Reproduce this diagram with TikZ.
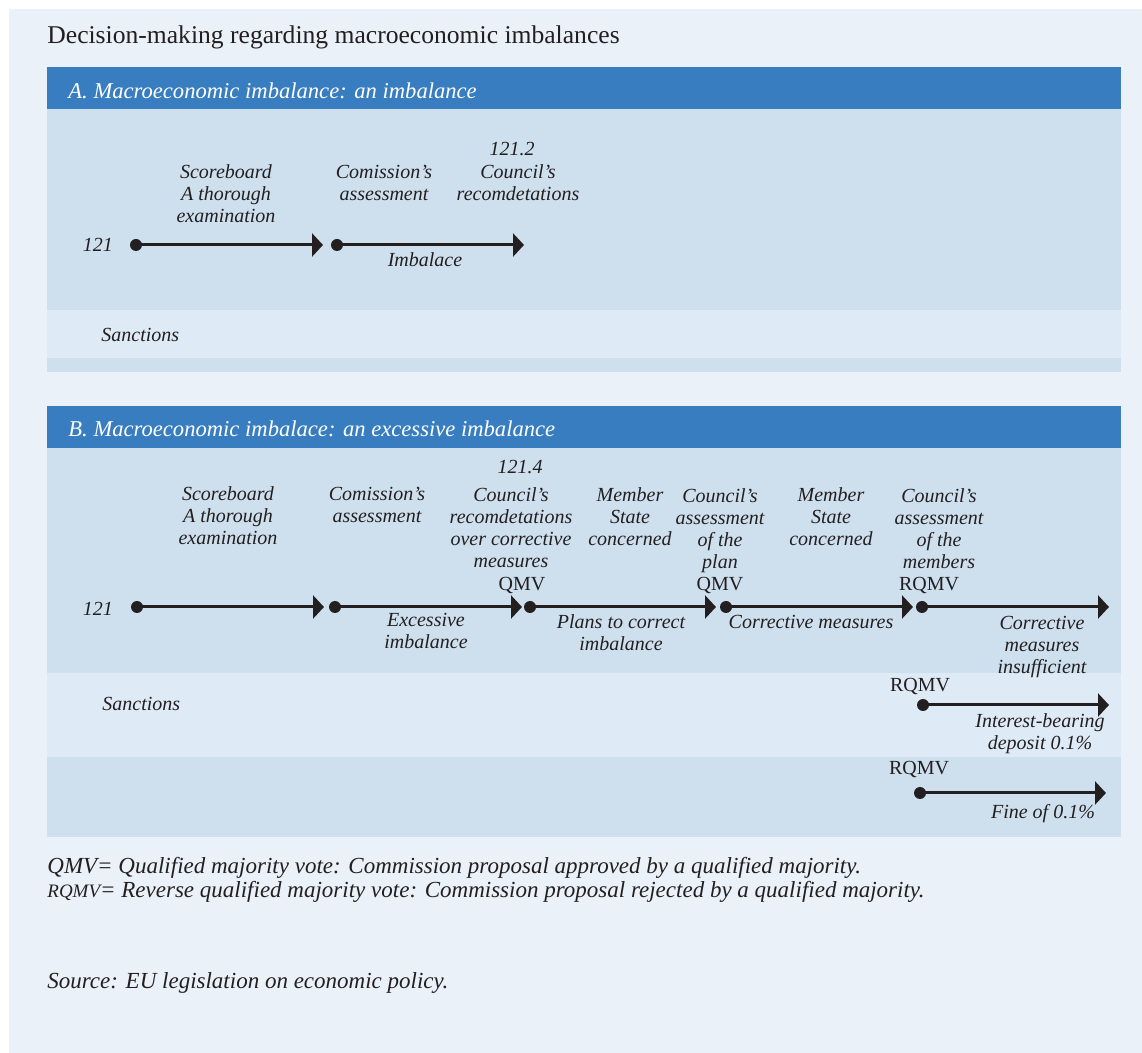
\documentclass[tikz,border=0pt]{standalone}
\usepackage{fontspec}
\setmainfont{Liberation Serif}
\usepackage{tikz}
\usetikzlibrary{arrows.meta}
\usetikzlibrary{positioning}
\definecolor{eu-ink}{HTML}{231F20}
\definecolor{eu-page}{HTML}{EAF1F8}
\definecolor{eu-header}{HTML}{387DC0}
\definecolor{eu-body}{HTML}{CEDFEE}
\definecolor{eu-strip}{HTML}{DEEAF6}

\begin{document}
\begin{tikzpicture}[x=0.5pt, y=-0.5pt,
    stagetext/.style={font=\fontsize{10}{11}\selectfont\itshape, align=center,
                      anchor=base, inner sep=0pt, text=eu-ink},
    vote/.style={font=\fontsize{10}{11}\selectfont, anchor=base, inner sep=0pt, text=eu-ink},
    stagedot/.style={circle, fill=eu-ink, inner sep=0pt, minimum size=6pt},
    stage/.style={line width=1.5pt, draw=eu-ink, -{Triangle[length=5.5pt, width=11.5pt]}},
    note/.style={font=\fontsize{11.5}{13}\selectfont\itshape, anchor=base west,
                 inner sep=0pt, text=eu-ink}]

    % page
    \useasboundingbox (0,0) rectangle (1142,1053);
    \fill[eu-page] (9,9) rectangle (1142,1053);
    \node[anchor=base west, inner sep=0pt, text=eu-ink, font=\fontsize{12.8}{15}\selectfont]
        (title) at (47,44) {Decision-making regarding macroeconomic imbalances};

    % panel A
    \fill[eu-header] (47,67) rectangle (1121,109);
    \fill[eu-body] (47,109) rectangle (1121,310);
    \fill[eu-strip] (47,310) rectangle (1121,358);
    \fill[eu-body] (47,358) rectangle (1121,372);
    \node[anchor=base west, inner sep=0pt, text=white, font=\fontsize{11.3}{13}\selectfont\itshape]
        (headA) at (68,99) {A. Macroeconomic imbalance: an imbalance};

    \begin{scope}[every node/.style={stagedot}]
        \node (a1) at (136,245) {};
        \node (a2) at (337,245) {};
    \end{scope}
    \coordinate (a1e) at (323,245);
    \coordinate (a2e) at (524,245);
    \draw[stage] (a1.center) -- (a1e);
    \draw[stage] (a2.center) -- (a2e);

    % texts sit on the baseline of their last line
    \begin{scope}[every node/.style={stagetext}]
        \node (a121) at (98,252) {121};
        \node (ascore) at (226,223) {Scoreboard\\A thorough\\examination};
        \node (acomm) at (384,201) {Comission’s\\assessment};
        \node (anum) at (512,156) {121.2};
        \node (acouncil) at (518,201) {Council’s\\recomdetations};
        \node (aimb) at (425,267) {Imbalace};
        \node[anchor=base west] (asanc) at (101,342) {Sanctions};
    \end{scope}

    % panel B
    \fill[eu-header] (47,406) rectangle (1121,448);
    \fill[eu-body] (47,448) rectangle (1121,673);
    \fill[eu-strip] (47,673) rectangle (1121,757);
    \fill[eu-body] (47,757) rectangle (1121,837);
    \node[anchor=base west, inner sep=0pt, text=white, font=\fontsize{11.3}{13}\selectfont\itshape]
        (headB) at (68,437) {B. Macroeconomic imbalace: an excessive imbalance};

    \begin{scope}[every node/.style={stagedot}]
        \node (b1) at (137,607) {};
        \node (b2) at (335,607) {};
        \node (b3) at (530,607) {};
        \node (b4) at (726,607) {};
        \node (b5) at (922,607) {};
        \node (s1) at (923,705) {};
        \node (s2) at (920,793) {};
    \end{scope}
    \coordinate (b1e) at (324,607);
    \coordinate (b2e) at (522,607);
    \coordinate (b3e) at (716,607);
    \coordinate (b4e) at (913,607);
    \coordinate (b5e) at (1109,607);
    \coordinate (s1e) at (1109,705);
    \coordinate (s2e) at (1106,793);
    \foreach \s in {b1,b2,b3,b4,b5,s1,s2}
        \draw[stage] (\s.center) -- (\s e);

    \begin{scope}[every node/.style={stagetext}]
        \node (b121) at (98,616) {121};
        \node (bscore) at (228,545) {Scoreboard\\A thorough\\examination};
        \node (bcomm) at (377,523) {Comission’s\\assessment};
        \node (bnum) at (520,474) {121.4};
        \node (bcouncil) at (511,568) {Council’s\\recomdetations\\over corrective\\measures};
        \node (bexc) at (426,649) {Excessive\\imbalance};
        \node (bplans) at (621,651) {Plans to correct\\imbalance};
        \node (bmember) at (630,546) {Member\\State\\concerned};
        \node (bplan) at (720,569) {Council’s\\assessment\\of the\\plan};
        \node (bmember2) at (831,546) {Member\\State\\concerned};
        \node (bcorr) at (811,629) {Corrective measures};
        \node (bmembers) at (939,569) {Council’s\\assessment\\of the\\members};
        \node (binsuf) at (1042,674) {Corrective\\measures\\insufficient};
        \node[anchor=base west] (bsanc) at (102,711) {Sanctions};
        \node (bdeposit) at (1040,750) {Interest-bearing\\deposit 0.1\%};
        \node (bfine) at (1043,819) {Fine of 0.1\%};
    \end{scope}

    % votes
    \begin{scope}[every node/.style={vote}]
        \node (v1) at (522,591) {QMV};
        \node (v2) at (720,591) {QMV};
        \node (v3) at (929,591) {RQMV};
        \node (v4) at (920,692) {RQMV};
        \node (v5) at (919,775) {RQMV};
    \end{scope}

    % notes
    \node[note] (n1) at (47,873) {QMV= Qualified majority vote: Commission proposal approved by a qualified majority.};
    \node[note] (n2) at (47,898) {{\fontsize{9.5}{11}\selectfont RQMV}= Reverse qualified majority vote: Commission proposal rejected by a qualified majority.};
    \node[note] (n3) at (47,988) {Source: EU legislation on economic policy.};

\end{tikzpicture}
\end{document}
